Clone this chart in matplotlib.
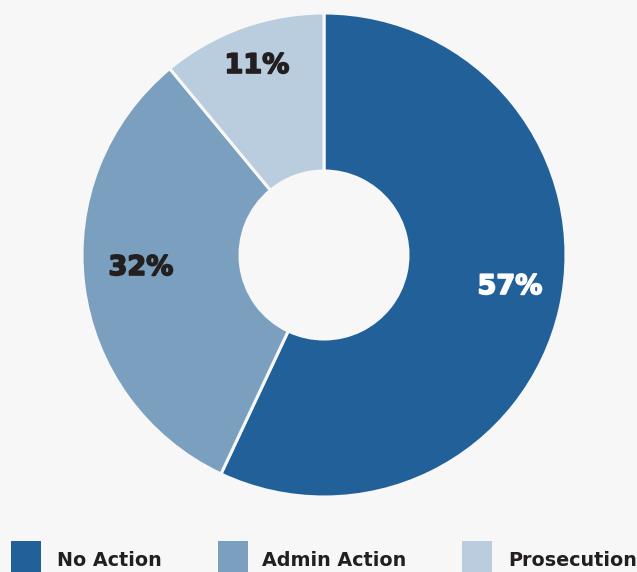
import matplotlib
matplotlib.use("Agg")
import matplotlib.pyplot as plt
import matplotlib.patheffects as pe
from matplotlib.patches import Rectangle

categorias = ["No Action", "Admin Action", "Prosecution"]
valores = [57, 32, 11]
rotulos = ["57%", "32%", "11%"]
cores = ["#22609a", "#7a9fbf", "#b9cddf"]
cores_texto = ["white", "#231f20", "#231f20"]

fundo = "#f7f7f7"

fig = plt.figure(figsize=(6.37, 5.72), dpi=100)
fig.patch.set_facecolor(fundo)
ax = fig.add_axes([0, 0, 1, 1])

# donut
centro = (324, 317)
raio = 242
fatias, _ = ax.pie(valores, colors=cores, startangle=90, counterclock=False,
                   center=centro, radius=raio, frame=True,
                   wedgeprops=dict(width=raio - 84, edgecolor=fundo, linewidth=2.2))
ax.set_xlim(0, 637)
ax.set_ylim(0, 572)
ax.set_aspect("equal")
ax.axis("off")

# rotulos das fatias (posicoes)
pos_rotulos = [(510, 285), (141, 304), (257, 506)]
for (x, y), txt, cor in zip(pos_rotulos, rotulos, cores_texto):
    ax.text(x, y, txt, color=cor, fontsize=19.5, fontweight="bold",
            family=["DejaVu Sans"], ha="center", va="center",
            path_effects=[pe.withStroke(linewidth=1.2, foreground=cor)])

# legenda na parte de baixo
pos_legenda = [(11, 57), (218, 262), (462, 508)]
for (xq, xt), nome, cor in zip(pos_legenda, categorias, cores):
    ax.add_patch(Rectangle((xq, -5), 30, 36, facecolor=cor, edgecolor="none",
                           clip_on=False))
    ax.text(xt, 12, nome, color="#231f20", fontsize=13.8, fontweight="bold",
            family=["DejaVu Sans"], ha="left", va="center")

plt.savefig("out.png", dpi=100, facecolor=fundo)
